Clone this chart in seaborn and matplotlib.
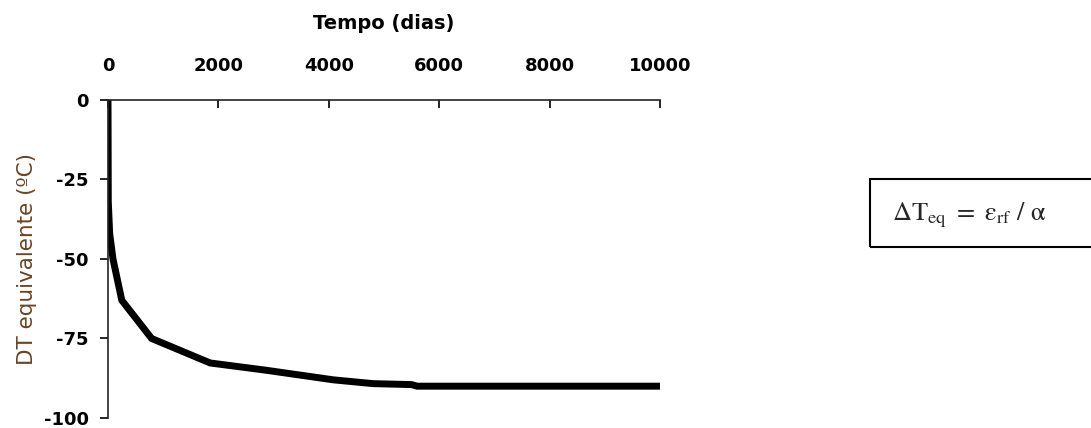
import matplotlib
matplotlib.use("Agg")
import matplotlib.pyplot as plt
import seaborn as sns
import pandas as pd
from matplotlib.patches import Rectangle

sns.set_style("ticks")
plt.rcParams['font.family'] = ['DejaVu Sans']
plt.rcParams['mathtext.fontset'] = 'stix'
plt.rcParams['axes.unicode_minus'] = False

# values
dias = [0, 5, 30, 90, 250, 790, 1850, 2870, 4080, 4800, 5500, 5600, 10000]
dt_eq = [0, -32, -42, -50, -63, -75, -82.7, -85, -88, -89.2, -89.5, -90, -90]
xticks = [0, 2000, 4000, 6000, 8000, 10000]
yticks = [0, -25, -50, -75, -100]

df = pd.DataFrame({"dias": dias, "dt": dt_eq})

fig = plt.figure(figsize=(10.91, 4.28), dpi=100)
ax = fig.add_axes([0.099, 0.0234, 0.506, 0.743])

sns.lineplot(data=df, x="dias", y="dt", color="black", linewidth=5,
             ax=ax, solid_joinstyle="miter")

ax.set_xlim(0, 10000)
ax.set_ylim(-100, 0)
ax.set_xticks(xticks)
ax.set_yticks(yticks)
ax.xaxis.tick_top()
ax.xaxis.set_label_position("top")
ax.spines["bottom"].set_visible(False)
ax.spines["right"].set_visible(False)
ax.spines["top"].set_visible(True)
for s in ("top", "left"):
    ax.spines[s].set_linewidth(1.2)
    ax.spines[s].set_color("#222222")

ax.tick_params(axis="x", direction="in", length=6, width=1.2, pad=18,
               labelsize=13, colors="black")
ax.tick_params(axis="y", direction="out", length=6, width=1.2, pad=8,
               labelsize=13, colors="black")
for lab in ax.get_xticklabels() + ax.get_yticklabels():
    lab.set_fontweight("bold")

ax.set_xlabel("Tempo (dias)", fontsize=14, fontweight="bold", labelpad=20,
              color="black")
ax.set_ylabel("DT equivalente (ºC)", fontsize=15.5, color="#6b4420",
              labelpad=5)

# formula box on the right
fig.patches.append(Rectangle((870 / 1091, 1 - 247 / 428), 0.3, 68 / 428,
                             transform=fig.transFigure, fill=False,
                             edgecolor="black", linewidth=1.5))
fig.text(892 / 1091, 1 - 215 / 428,
         r"$\mathrm{\Delta T_{eq}}\ =\ \mathrm{\varepsilon_{rf}}\ /\ \mathrm{α}$",
         fontsize=19, va="center", ha="left")

fig.savefig("out.png", dpi=100)
